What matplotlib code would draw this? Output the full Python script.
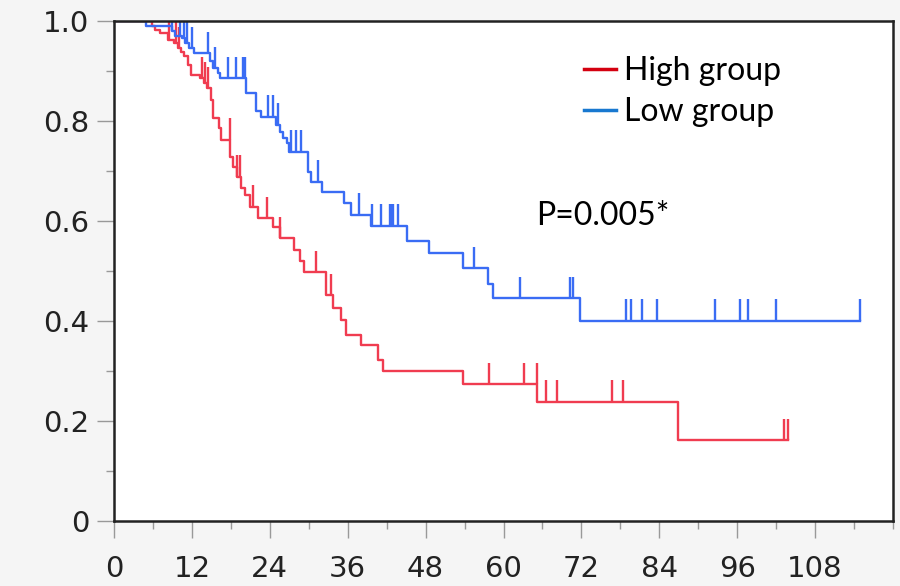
import numpy as np
import matplotlib
matplotlib.use("Agg")
import matplotlib.pyplot as plt
from matplotlib.lines import Line2D
from matplotlib.ticker import MultipleLocator

# Kaplan-Meier curves: event times (months) and survival after each event
low_t = [4.9, 8.9, 9.4, 10.5, 11.0, 11.6, 12.3, 14.8, 15.3, 16.0, 16.3, 20.4, 21.9, 22.6,
         25.0, 25.5, 26.0, 26.6, 27.0, 29.9, 30.4, 32.0, 35.5, 36.5, 39.6, 45.2, 48.5,
         53.7, 57.6, 58.4, 71.8]
low_s = [0.99, 0.98, 0.97, 0.965, 0.955, 0.945, 0.935, 0.92, 0.905, 0.895, 0.885, 0.855, 0.82, 0.808,
         0.792, 0.778, 0.765, 0.755, 0.738, 0.698, 0.678, 0.657, 0.635, 0.612, 0.59, 0.56, 0.535,
         0.505, 0.473, 0.445, 0.40]
low_cens = [9.0, 10.2, 10.8, 11.3, 12.0, 14.5, 15.6, 17.5, 18.8, 19.8, 20.1, 23.7, 24.5, 25.3,
            27.3, 28.0, 28.8, 31.4, 37.8, 39.8, 41.1, 42.5, 42.8, 43.0, 43.8, 55.5, 62.6,
            70.3, 70.7, 78.8, 79.7, 81.4, 83.6, 92.6, 96.4, 97.7, 102.0, 114.9]

high_t = [5.9, 6.3, 7.1, 8.3, 9.3, 9.8, 10.3, 10.8, 11.4, 11.9, 13.3, 13.8, 14.3, 15.0, 15.3,
          16.2, 16.5, 17.9, 18.3, 18.9, 19.6, 20.1, 20.9, 22.2, 24.5, 25.5, 27.8, 28.6, 29.3,
          32.7, 33.7, 35.0, 35.7, 38.0, 40.6, 41.4, 53.7, 65.2, 86.9]
high_s = [0.99, 0.982, 0.975, 0.962, 0.955, 0.945, 0.938, 0.93, 0.912, 0.892, 0.885, 0.875, 0.865, 0.842, 0.805,
          0.785, 0.762, 0.728, 0.708, 0.688, 0.665, 0.652, 0.628, 0.605, 0.588, 0.565, 0.542, 0.52, 0.497,
          0.451, 0.425, 0.401, 0.371, 0.351, 0.321, 0.300, 0.273, 0.238, 0.161]
high_cens = [8.4, 9.6, 10.0, 13.5, 14.0, 14.5, 17.8, 18.9, 19.4, 21.4, 23.5, 25.6, 31.1, 33.4,
             57.7, 63.1, 65.1, 66.5, 68.3, 76.7, 78.4, 103.2, 103.9]

x_ticks = [0, 12, 24, 36, 48, 60, 72, 84, 96, 108]
y_ticks = [0, 0.2, 0.4, 0.6, 0.8, 1.0]
y_labels = ["0", "0.2", "0.4", "0.6", "0.8", "1.0"]

red = "#f03c50"
blue = "#3a6cf4"

fig = plt.figure(figsize=(9, 5.86), dpi=100, facecolor="#f5f5f5")
ax = fig.add_axes([0.1267, 0.1116, 0.8655, 0.8526])
ax.set_facecolor("white")


def draw_km(times, surv, cens, color):
    times = np.asarray(times)
    surv = np.asarray(surv)
    end = max(times.max(), max(cens))
    t = np.concatenate([[0], times, [end]])
    s = np.concatenate([[1.0], surv, [surv[-1]]])
    ax.step(t, s, where="post", color=color, lw=1.7)
    idx = np.searchsorted(times, cens, side="right")
    cy = np.concatenate([[1.0], surv])[idx]
    ax.vlines(cens, cy, cy + 0.043, color=color, lw=1.7)


draw_km(high_t, high_s, high_cens, red)
draw_km(low_t, low_s, low_cens, blue)

ax.set_xlim(0, 120)
ax.set_ylim(0, 1.0)
ax.set_xticks(x_ticks)
ax.set_yticks(y_ticks)
ax.set_yticklabels(y_labels)
ax.xaxis.set_minor_locator(MultipleLocator(6))
ax.yaxis.set_minor_locator(MultipleLocator(0.1))
ax.tick_params(which="major", length=12, width=1, color="#999999", pad=6,
               labelsize=21, labelcolor="#222222")
ax.tick_params(axis="x", which="major", pad=13)
ax.tick_params(which="minor", length=6, width=1, color="#999999")
for sp in ax.spines.values():
    sp.set_linewidth(1.8)
    sp.set_color("#222222")
for lab in ax.get_xticklabels() + ax.get_yticklabels():
    lab.set_family("DejaVu Sans")

handles = [Line2D([], [], color="#d40010", lw=2.5),
           Line2D([], [], color="#1878d0", lw=2.5)]
ax.legend(handles, ["High group", "Low group"], loc="upper left",
          bbox_to_anchor=(0.603, 0.93), frameon=False, handlelength=1.0,
          handletextpad=0.25, borderpad=0, borderaxespad=0, labelspacing=0.35,
          prop={"family": "Lato", "size": 23})

ax.text(65, 0.61, "P=0.005*", fontsize=23, family="Lato", va="center", ha="left")

fig.savefig("out.png", dpi=100, facecolor=fig.get_facecolor())
